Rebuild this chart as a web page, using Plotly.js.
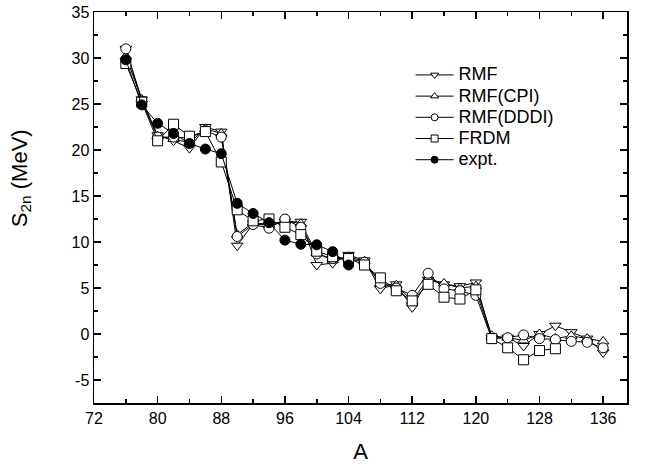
<!DOCTYPE html>
<html>
<head>
<meta charset="utf-8">
<script src="https://cdn.plot.ly/plotly-3.0.1.min.js"></script>
<style>html,body{margin:0;padding:0;background:#fff;}#chart{width:646px;height:466px;}</style>
</head>
<body>
<div id="chart"></div>
<script>
const massA = [76,78,80,82,84,86,88,90,92,94,96,98,100,102,104,106,108,110,112,114,116,118,120,122,124,126,128,130,132,134,136];
const rmf   = [31.0,25.5,21.6,21.0,20.2,22.5,22.0,9.6,12.0,11.8,12.2,12.2,7.5,7.7,8.6,8.0,4.9,5.4,2.9,5.9,5.4,5.2,5.6,-0.4,-0.4,-1.3,0.0,0.9,0.2,-0.5,-2.0];
const rmfCPI = [30.2,25.5,21.5,21.2,20.8,22.3,21.8,10.8,12.1,11.9,12.3,12.0,8.8,8.0,8.4,7.9,5.5,5.3,3.6,6.0,5.5,5.0,5.2,-0.2,-0.4,-0.7,0.0,-0.5,-0.2,-0.5,-0.8];
const rmfDDDI = [31.0,25.3,21.4,21.4,21.3,22.1,21.4,10.6,11.9,11.5,12.5,11.6,8.7,8.2,8.2,7.8,5.5,5.0,4.2,6.6,4.9,4.7,4.2,-0.5,-0.4,-0.1,-0.5,-0.6,-0.8,-0.9,-1.5];
const frdmA = [76,78,80,82,84,86,88,90,92,94,96,98,100,102,104,106,108,110,112,114,116,118,120,122,124,126,128,130];
const frdm  = [29.4,25.2,21.0,22.8,21.5,22.0,18.7,13.5,12.3,12.5,11.6,10.8,9.0,8.4,8.2,7.5,6.1,4.7,3.6,5.4,4.0,3.8,4.8,-0.5,-1.5,-2.8,-1.8,-1.6];
const exptA = [76,78,80,82,84,86,88,90,92,94,96,98,100,102,104];
const expt  = [29.8,24.9,22.9,21.8,20.7,20.1,19.6,14.2,13.1,12.1,10.2,9.75,9.7,8.95,7.5];
const xTicks = [72,80,88,96,104,112,120,128,136];
const yTicks = [-5,0,5,10,15,20,25,30,35];
const seriesNames = ['RMF','RMF(CPI)','RMF(DDDI)','FRDM','expt.'];
const seriesSymbols = ['triangle-down','triangle-up','circle','square','circle'];
const seriesFilled = [false,false,false,false,true];
const seriesX = [massA, massA, massA, frdmA, exptA];
const seriesY = [rmf, rmfCPI, rmfDDDI, frdm, expt];

const data = [];
for (let i = 0; i < seriesNames.length; i++) {
  data.push({
    type: 'scatter', mode: 'lines+markers', name: seriesNames[i], x: seriesX[i], y: seriesY[i],
    showlegend: false, legendgroup: 'g' + i,
    line: {color: '#000', width: 1},
    marker: {symbol: seriesSymbols[i], size: 10, color: seriesFilled[i] ? '#000' : '#fff',
             line: {color: '#000', width: 1}}
  });
}
// legend entries (smaller legend symbols, tighter rows, as in the reference)
for (let i = 0; i < seriesNames.length; i++) {
  data.push({
    type: 'scatter', mode: 'lines+markers',
    name: '<span style="font-size:18px">' + seriesNames[i] + '</span>', x: [null], y: [null],
    showlegend: true, legendgroup: 'g' + i,
    line: {color: '#000', width: 1},
    marker: {symbol: seriesSymbols[i], size: 7, color: seriesFilled[i] ? '#000' : '#fff',
             line: {color: '#000', width: 1}}
  });
}
const axisCommon = {
  showgrid: false, zeroline: false, showline: true, linecolor: '#000', linewidth: 1.5,
  mirror: 'ticks', ticks: 'inside', ticklen: 7, tickwidth: 1.5, tickcolor: '#000',
  tickfont: {family: 'Liberation Sans, Arial, sans-serif', size: 16, color: '#000'}
};
const layout = {
  width: 646, height: 466,
  margin: {l: 94, r: 19, t: 12, b: 63},
  paper_bgcolor: '#fff', plot_bgcolor: '#fff',
  font: {family: 'Liberation Sans, Arial, sans-serif', color: '#000'},
  showlegend: true,
  legend: {x: 0.594, y: 0.879, xanchor: 'left', yanchor: 'top', bgcolor: 'rgba(0,0,0,0)',
           font: {size: 14, color: '#000'}, tracegroupgap: 0, itemwidth: 38},
  xaxis: Object.assign({}, axisCommon, {
    range: [72, 139], tickmode: 'array', tickvals: xTicks, ticktext: xTicks.map(String),
    minor: {dtick: 4, tick0: 72, ticks: 'inside', ticklen: 4, tickwidth: 1.5, tickcolor: '#000'},
    title: {text: 'A', font: {size: 22}, standoff: 18}
  }),
  yaxis: Object.assign({}, axisCommon, {
    range: [-7.5, 35], tickmode: 'array', tickvals: yTicks, ticktext: yTicks.map(String),
    minor: {dtick: 2.5, tick0: 0, ticks: 'inside', ticklen: 4, tickwidth: 1.5, tickcolor: '#000'}
  }),
  annotations: [{
    text: 'S<sub>2n</sub> (MeV)', textangle: -90, showarrow: false,
    xref: 'paper', yref: 'paper', x: -0.137, y: 0.575, xanchor: 'center', yanchor: 'middle',
    font: {size: 22, color: '#000'}
  }]
};
Plotly.newPlot('chart', data, layout, {displayModeBar: false, staticPlot: true});
</script>
</body>
</html>
